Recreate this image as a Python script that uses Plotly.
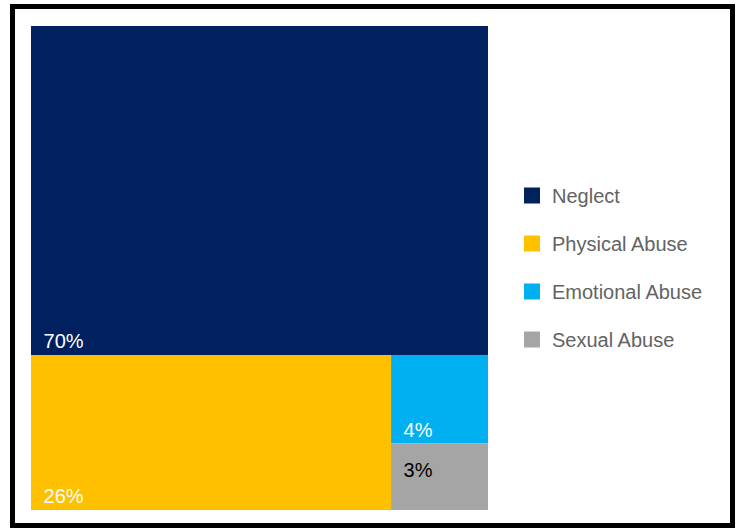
import plotly.graph_objects as go

categories = ["Neglect", "Physical Abuse", "Emotional Abuse", "Sexual Abuse"]
values = [70, 26, 4, 3]
colors = ["#00205F", "#FFC000", "#00B0F0", "#A5A5A5"]
text_colors = ["white", "white", "white", "black"]
label_templates = [
    "&nbsp;&#8201;%{value}%",
    "&nbsp;&#8201;%{value}%",
    "&nbsp;&#8201;%{value}%",
    "&nbsp;&#8201;%{value}%<br>&nbsp;",
]

W, H = 739, 531
FONT = "Liberation Sans, Arial, sans-serif"

fig = go.Figure()

fig.add_trace(go.Treemap(
    labels=categories,
    parents=[""] * len(categories),
    values=values,
    sort=False,
    texttemplate=label_templates,
    textposition="bottom left",
    insidetextfont=dict(family=FONT, size=20, color=text_colors),
    marker=dict(colors=colors, line=dict(width=0), pad=dict(t=0, l=0, r=0, b=0)),
    tiling=dict(packing="squarify", pad=0),
    pathbar=dict(visible=False),
    domain=dict(x=[31 / W, 488 / W], y=[1 - 510 / H, 1 - 26 / H]),
    hoverinfo="skip",
))

# legend entries
for c, col in zip(categories, colors):
    fig.add_trace(go.Scatter(
        x=[None], y=[None], mode="markers", name=c,
        legendgroup=c,
        marker=dict(symbol="square", size=18, color=col),
        showlegend=True,
    ))

fig.update_layout(
    width=W, height=H,
    margin=dict(l=0, r=0, t=0, b=0),
    paper_bgcolor="white",
    plot_bgcolor="white",
    xaxis=dict(visible=False),
    yaxis=dict(visible=False),
    legend=dict(
        x=512 / W, xanchor="left",
        y=1 - 176 / H, yanchor="top",
        font=dict(family=FONT, size=20, color="#636363"),
        traceorder="grouped",
        tracegroupgap=19,
        bgcolor="rgba(0,0,0,0)",
    ),
    shapes=[dict(
        type="rect", xref="paper", yref="paper",
        x0=12.5 / W, x1=732.5 / W, y0=1 - 525.5 / H, y1=1 - 6.5 / H,
        line=dict(color="black", width=5), fillcolor="rgba(0,0,0,0)",
        layer="above",
    )],
)

fig.write_html(
    "out.html",
    config={"displayModeBar": False},
    post_script="document.body.style.margin='0';document.body.style.overflow='hidden';",
)
